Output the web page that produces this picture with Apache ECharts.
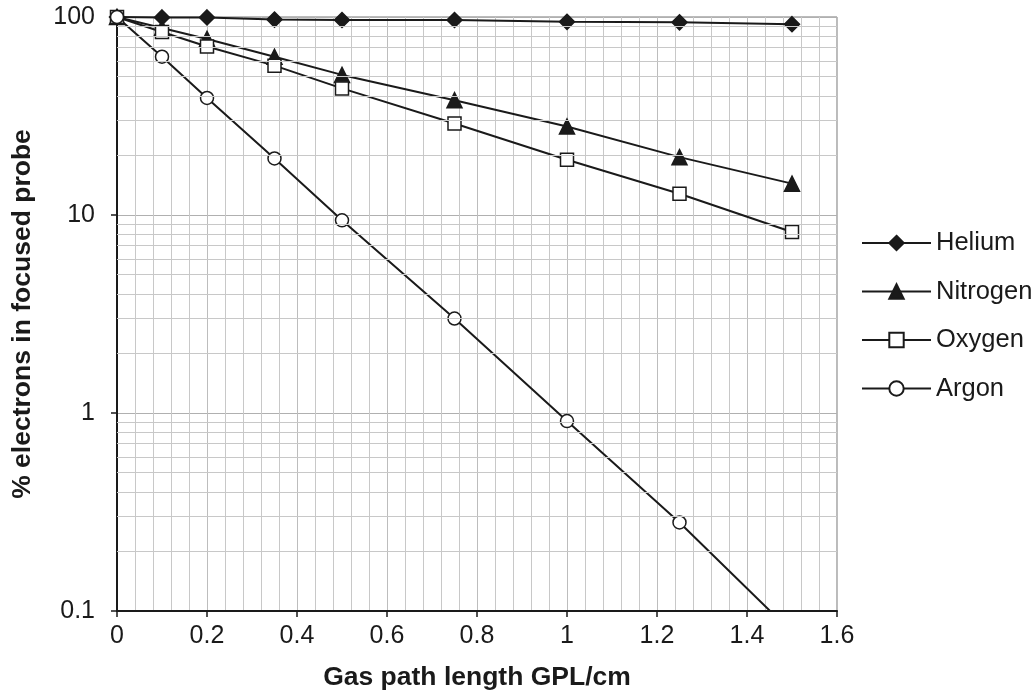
<!DOCTYPE html>
<html>
<head>
<meta charset="utf-8">
<script src="https://cdn.jsdelivr.net/npm/echarts@6/dist/echarts.min.js"></script>
<style>
  html, body { margin: 0; padding: 0; background: #fff; }
  #chart { width: 1036px; height: 696px; }
</style>
</head>
<body>
<div id="chart"></div>
<script>
// gas path length (cm)
const gpl = [0, 0.1, 0.2, 0.35, 0.5, 0.75, 1, 1.25, 1.5]

// % electrons in focused probe
const helium = [100, 99.5, 99.5, 97, 96.5, 96.5, 94.5, 94, 92]
const nitrogen = [100, 88, 77.5, 63, 51, 38, 28, 19.6, 14.4]
const oxygen = [100, 84, 71, 56.8, 43.6, 29, 19, 12.8, 8.2]
const argon = [100, 63, 39, 19.3, 9.4, 3, 0.91, 0.28, 0.078]

const yTicks = [0.1, 1, 10, 100]

// minor log grid lines (2..9 per decade)
const minorLines = []
for (let d = 0; d < yTicks.length - 1; d++) {
  for (let k = 2; k <= 9; k++) {
    minorLines.push({ yAxis: +(yTicks[d] * k).toPrecision(3) })
  }
}

const ink = '#1a1a1a'
const font = 'Liberation Sans, Arial, sans-serif'

function pairs(vals) {
  return vals.map((v, i) => [gpl[i], v])
}

function makeSeries(name, vals, symbol, size, fill) {
  return {
    name: name,
    type: 'line',
    data: pairs(vals),
    symbol: symbol,
    symbolSize: size,
    showAllSymbol: true,
    clip: true,
    z: 3,
    lineStyle: { color: ink, width: 2 },
    itemStyle: { color: fill, borderColor: ink, borderWidth: 1.5 },
    emphasis: { disabled: true }
  }
}

const chart = echarts.init(document.getElementById('chart'))

const option = {
  animation: false,
  backgroundColor: '#fff',
  grid: {
    left: 117,
    right: 199,
    top: 17,
    bottom: 84,
    show: true,
    borderColor: '#777',
    borderWidth: 1
  },
  legend: {
    orient: 'vertical',
    left: 856,
    top: 225,
    itemWidth: 69,
    itemHeight: 18,
    itemGap: 22.5,
    data: ['Helium', 'Nitrogen', 'Oxygen', 'Argon'],
    textStyle: { fontFamily: font, fontSize: 25.5, color: ink }
  },
  xAxis: {
    type: 'value',
    min: 0,
    max: 1.6,
    interval: 0.2,
    name: 'Gas path length GPL/cm',
    nameLocation: 'middle',
    nameGap: 53,
    nameTextStyle: { fontFamily: font, fontSize: 26.5, fontWeight: 'bold', color: ink },
    axisLine: { lineStyle: { color: ink, width: 2 } },
    axisTick: { show: true, length: 6, lineStyle: { color: ink, width: 1.5 } },
    axisLabel: {
      fontFamily: font, fontSize: 25, color: ink, margin: 13,
      formatter: v => String(+v.toFixed(1))
    },
    splitLine: { show: true, lineStyle: { color: '#bdbdbd', width: 1 } },
    minorTick: { show: false, splitNumber: 5 },
    minorSplitLine: { show: true, lineStyle: { color: '#c8c8c8', width: 1 } }
  },
  yAxis: {
    type: 'log',
    logBase: 10,
    min: 0.1,
    max: 100,
    name: '% electrons in focused probe',
    nameLocation: 'middle',
    nameRotate: 90,
    nameGap: 81,
    nameTextStyle: { fontFamily: font, fontSize: 26.5, fontWeight: 'bold', color: ink },
    axisLine: { show: true, lineStyle: { color: ink, width: 2 } },
    axisTick: { show: true, length: 6, lineStyle: { color: ink, width: 1.5 } },
    axisLabel: {
      fontFamily: font, fontSize: 25, color: ink, margin: 22,
      formatter: v => String(+(+v).toPrecision(3))
    },
    splitLine: { show: true, lineStyle: { color: '#b0b0b0', width: 1 } }
  },
  series: [
    {
      name: 'grid',
      type: 'line',
      data: [],
      z: 1,
      silent: true,
      markLine: {
        silent: true,
        symbol: 'none',
        label: { show: false },
        lineStyle: { color: '#c8c8c8', width: 1, type: 'solid' },
        emphasis: { disabled: true },
        data: minorLines
      }
    },
    makeSeries('Helium', helium, 'diamond', 15, ink),
    makeSeries('Nitrogen', nitrogen, 'triangle', 15, ink),
    makeSeries('Oxygen', oxygen, 'rect', 13, '#fff'),
    makeSeries('Argon', argon, 'circle', 13, '#fff')
  ]
}

option && chart.setOption(option)
</script>
</body>
</html>
